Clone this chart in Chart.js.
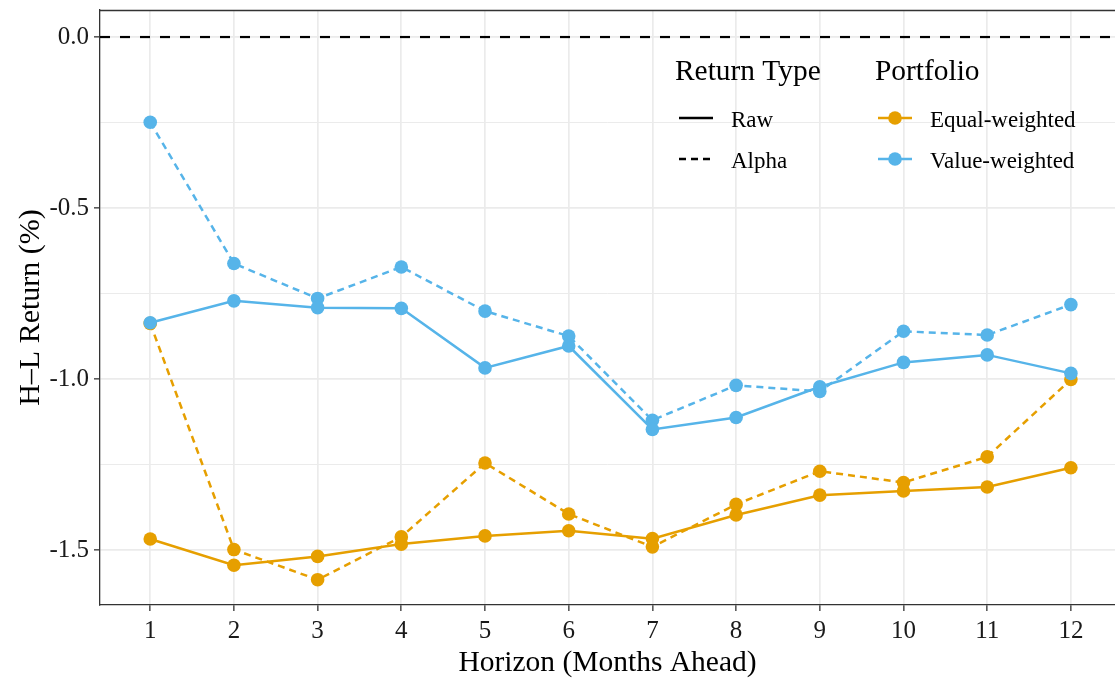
<!DOCTYPE html>
<html>
<head>
<meta charset="utf-8">
<script src="https://cdn.jsdelivr.net/npm/chart.js@4/dist/chart.umd.min.js"></script>
<style>
html,body{margin:0;padding:0;background:#fff;}
canvas{display:block;}
</style>
</head>
<body>
<canvas id="c" width="1115" height="680"></canvas>
<script>
const horizons = [1,2,3,4,5,6,7,8,9,10,11,12];
const ewRaw   = [-1.467,-1.544,-1.518,-1.482,-1.458,-1.443,-1.466,-1.397,-1.339,-1.327,-1.315,-1.259];
const ewAlpha = [-0.837,-1.498,-1.586,-1.461,-1.245,-1.394,-1.490,-1.366,-1.269,-1.302,-1.227,-1.001];
const vwRaw   = [-0.835,-0.771,-0.791,-0.793,-0.967,-0.903,-1.147,-1.112,-1.022,-0.951,-0.929,-0.983];
const vwAlpha = [-0.249,-0.662,-0.764,-0.672,-0.801,-0.874,-1.120,-1.018,-1.036,-0.860,-0.871,-0.782];
const yMajorTicks = [0.0,-0.5,-1.0,-1.5];
const yMinorTicks = [-0.25,-0.75,-1.25];
const xLabel = 'Horizon (Months Ahead)';
const yLabel = 'H\u2013L Return (%)';

const EW = '#E69F00', VW = '#56B4E9';
const FONT = "'Liberation Serif', 'Times New Roman', serif";
const xMin = 0.4, xMax = 12.527, yMin = -1.66, yMax = 0.079;

function pts(arr){ return horizons.map((h,i)=>({x:h,y:arr[i]})); }
function ds(label, arr, color, dashed){
  return {label, data: pts(arr), borderColor: color, backgroundColor: color,
    borderWidth: 2.5, borderDash: dashed ? [7,5] : [], pointRadius: 6.8,
    pointHoverRadius: 6.8, pointBorderWidth: 0, pointBackgroundColor: color, tension: 0};
}

const legendPlugin = {
  id: 'ggLegend',
  afterDraw(chart){
    const ctx = chart.ctx;
    ctx.save();
    ctx.fillStyle = '#000';
    ctx.textBaseline = 'alphabetic';
    ctx.textAlign = 'left';
    ctx.font = `29.4px ${FONT}`;
    ctx.fillText('Return Type', 675, 80);
    ctx.fillText('Portfolio', 875, 80);
    ctx.font = `23px ${FONT}`;
    ctx.strokeStyle = '#000'; ctx.lineWidth = 2.5;
    ctx.setLineDash([]);
    ctx.beginPath(); ctx.moveTo(679,118); ctx.lineTo(713,118); ctx.stroke();
    ctx.setLineDash([7,5]);
    ctx.beginPath(); ctx.moveTo(679,159); ctx.lineTo(713,159); ctx.stroke();
    ctx.setLineDash([]);
    ctx.fillText('Raw', 731, 127);
    ctx.fillText('Alpha', 731, 168);
    [[EW,118,'Equal-weighted'],[VW,159,'Value-weighted']].forEach(([c,y,t])=>{
      ctx.strokeStyle = c; ctx.fillStyle = c; ctx.lineWidth = 2.5;
      ctx.beginPath(); ctx.moveTo(878,y); ctx.lineTo(912,y); ctx.stroke();
      ctx.beginPath(); ctx.arc(895,y,6.8,0,Math.PI*2); ctx.fill();
      ctx.fillStyle = '#000';
      ctx.fillText(t, 930, y+9);
    });
    const a = chart.chartArea;
    ctx.strokeStyle = '#333'; ctx.lineWidth = 1.3;
    ctx.beginPath(); ctx.moveTo(a.left, a.top+0.5); ctx.lineTo(a.right, a.top+0.5); ctx.stroke();
    ctx.restore();
  }
};

new Chart(document.getElementById('c'), {
  type: 'line',
  data: {
    datasets: [
      ds('Value-weighted Raw', vwRaw, VW, false),
      ds('Value-weighted Alpha', vwAlpha, VW, true),
      ds('Equal-weighted Raw', ewRaw, EW, false),
      ds('Equal-weighted Alpha', ewAlpha, EW, true),
      {label:'zero', data:[{x:xMin,y:0},{x:xMax,y:0}], borderColor:'#000', borderWidth:2.2,
       borderDash:[10,10], pointRadius:0, pointHoverRadius:0}
    ]
  },
  options: {
    responsive: false,
    animation: false,
    devicePixelRatio: 1,
    layout: {autoPadding: false, padding: {top: 10, left: 0, right: 0, bottom: 0}},
    plugins: {legend: {display: false}, tooltip: {enabled: false}},
    scales: {
      x: {
        type: 'linear', min: xMin, max: xMax,
        afterBuildTicks: s => { s.ticks = horizons.map(v => ({value: v})); },
        afterFit: s => { s.height = 75; s.paddingLeft = 0; s.paddingRight = 0; s.paddingTop = 0; s.paddingBottom = 0; },
        grid: {color: '#EBEBEB', lineWidth: 1.7, tickColor: '#333', tickLength: 6, tickWidth: 1.3},
        border: {display: true, color: '#333', width: 1.3},
        ticks: {autoSkip: false, maxRotation: 0, color: '#1a1a1a', padding: 5,
          font: {family: FONT, size: 25}, callback: v => String(v)},
        title: {display: true, text: xLabel, color: '#000',
          font: {family: FONT, size: 29.5, lineHeight: 1}, padding: {top: 0, bottom: 2}}
      },
      y: {
        type: 'linear', min: yMin, max: yMax,
        afterBuildTicks: s => { s.ticks = yMajorTicks.concat(yMinorTicks).sort((a,b)=>b-a).map(v => ({value: v})); },
        afterFit: s => { s.width = 100; s.paddingTop = 0; s.paddingBottom = 0; s.paddingLeft = 0; s.paddingRight = 0; },
        grid: {
          color: '#EBEBEB',
          lineWidth: c => yMajorTicks.includes(c.tick.value) ? 1.7 : 1,
          tickColor: c => yMajorTicks.includes(c.tick.value) ? '#333' : 'rgba(0,0,0,0)',
          tickLength: 6, tickWidth: 1.3
        },
        border: {display: true, color: '#333', width: 1.3},
        ticks: {autoSkip: false, color: '#1a1a1a', padding: 5,
          font: {family: FONT, size: 25},
          callback: v => yMajorTicks.includes(v) ? v.toFixed(1) : ''},
        title: {display: true, text: yLabel, color: '#000',
          font: {family: FONT, size: 30, lineHeight: 1}, padding: {top: 16, bottom: 0}}
      }
    }
  },
  plugins: [legendPlugin]
});
</script>
</body>
</html>
